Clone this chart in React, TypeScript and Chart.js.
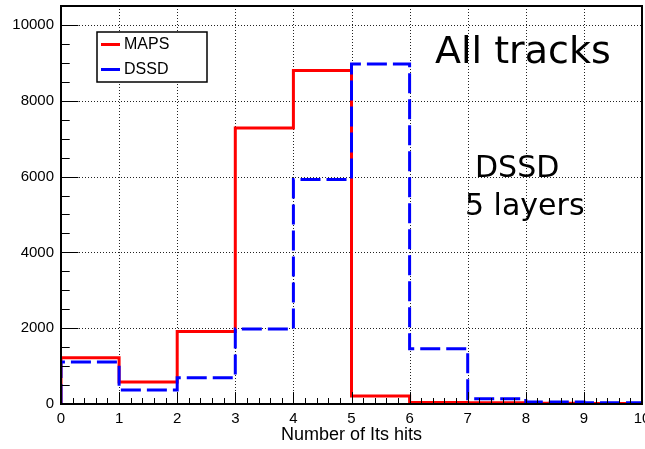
import React, { useEffect, useRef } from "react";
import { Chart, registerables } from "chart.js";

Chart.register(...registerables);

// Histogram bins: lower edges 0..9, width 1
const binEdges = [0, 1, 2, 3, 4, 5, 6, 7, 8, 9, 10];
const mapsCounts = [1220, 580, 1910, 7280, 8800, 210, 40, 30, 20, 10];
const dssdCounts = [1110, 370, 690, 1980, 5920, 8970, 1460, 140, 50, 30];
const xTickValues = [0, 1, 2, 3, 4, 5, 6, 7, 8, 9, 10];
const yTickValues = [0, 2000, 4000, 6000, 8000, 10000];
const legendLabels = ["MAPS", "DSSD"];
const xTitle = "Number of Its hits";
const annotationMain = "All tracks";
const annotationSub1 = "DSSD";
const annotationSub2 = "5 layers";

const RED = "#ff0000";
const BLUE = "#0000ff";
const LABEL_FONT = "'Liberation Sans', Arial, Helvetica, sans-serif";
const TEXT_FONT = "'DejaVu Sans', sans-serif";

// points at each bin's lower edge plus the final upper edge
function histPoints(counts: number[]) {
  const pts: { x: number; y: number }[] = [{ x: binEdges[0], y: 0 }];
  counts.forEach((c, i) => pts.push({ x: binEdges[i], y: c }));
  pts.push({ x: binEdges[binEdges.length - 1], y: counts[counts.length - 1] });
  return pts;
}

const rootPlugin = {
  id: "rootStyle",
  beforeDatasetsDraw(chart: any) {
    const { ctx, chartArea: a, scales } = chart;
    const xs = scales.x;
    const ys = scales.y;
    ctx.save();
    ctx.strokeStyle = "#222";
    ctx.lineWidth = 1;
    ctx.setLineDash([1, 2]);
    xTickValues.forEach((v) => {
      const px = Math.round(xs.getPixelForValue(v)) + 0.5;
      ctx.beginPath();
      ctx.moveTo(px, a.top);
      ctx.lineTo(px, a.bottom);
      ctx.stroke();
    });
    yTickValues.forEach((v) => {
      const py = Math.round(ys.getPixelForValue(v)) + 0.5;
      ctx.beginPath();
      ctx.moveTo(a.left, py);
      ctx.lineTo(a.right, py);
      ctx.stroke();
    });
    ctx.restore();
  },
  afterDatasetsDraw(chart: any) {
    const { ctx, chartArea: a, scales } = chart;
    const xs = scales.x;
    const ys = scales.y;
    ctx.save();
    ctx.setLineDash([]);
    ctx.strokeStyle = "#000";
    ctx.lineWidth = 1;
    const w = a.right - a.left;
    const h = a.bottom - a.top;
    const xMaj = 0.03 * h;
    const yMaj = 0.03 * w;
    for (let i = 0; i <= 50; i++) {
      const v = i * 0.2;
      const px = Math.round(xs.getPixelForValue(v)) + 0.5;
      const len = i % 5 === 0 ? xMaj : xMaj / 2;
      ctx.beginPath();
      ctx.moveTo(px, a.bottom);
      ctx.lineTo(px, a.bottom - len);
      ctx.stroke();
    }
    for (let v = 0; v <= ys.max; v += 500) {
      const py = Math.round(ys.getPixelForValue(v)) + 0.5;
      const len = v % 2000 === 0 ? yMaj : yMaj / 2;
      ctx.beginPath();
      ctx.moveTo(a.left, py);
      ctx.lineTo(a.left + len, py);
      ctx.stroke();
    }
    ctx.lineWidth = 2;
    ctx.strokeRect(a.left, a.top, w, h);

    // legend
    const lx = 97, ly = 32, lw = 110, lh = 50;
    ctx.fillStyle = "#fff";
    ctx.fillRect(lx, ly, lw, lh);
    ctx.lineWidth = 1.5;
    ctx.strokeRect(lx, ly, lw, lh);
    const colors = [RED, BLUE];
    const rows = [44.5, 69.5];
    ctx.font = `16px ${LABEL_FONT}`;
    ctx.textBaseline = "middle";
    ctx.textAlign = "left";
    legendLabels.forEach((lab, i) => {
      ctx.strokeStyle = colors[i];
      ctx.lineWidth = 3;
      ctx.beginPath();
      ctx.moveTo(101, rows[i]);
      ctx.lineTo(120, rows[i]);
      ctx.stroke();
      ctx.fillStyle = "#000";
      ctx.fillText(lab, 124, rows[i] + 0.5);
    });

    // annotations
    ctx.fillStyle = "#000";
    ctx.textBaseline = "alphabetic";
    ctx.font = `38px ${TEXT_FONT}`;
    ctx.fillText(annotationMain, 435, 63);
    ctx.font = `30px ${TEXT_FONT}`;
    ctx.fillText(annotationSub1, 475, 177);
    ctx.fillText(annotationSub2, 465, 215);
    ctx.restore();
  },
};

export default function App() {
  const ref = useRef<HTMLCanvasElement | null>(null);
  useEffect(() => {
    if (!ref.current) return;
    const chart = new Chart(ref.current, {
      type: "line",
      data: {
        datasets: [
          {
            label: legendLabels[1],
            data: histPoints(dssdCounts),
            borderColor: BLUE,
            borderWidth: 3,
            borderDash: [20, 6],
            stepped: "before",
            pointRadius: 0,
            fill: false,
            order: 0,
            borderJoinStyle: "miter",
            borderCapStyle: "butt",
          },
          {
            label: legendLabels[0],
            data: histPoints(mapsCounts),
            borderColor: RED,
            borderWidth: 3,
            stepped: "before",
            pointRadius: 0,
            fill: false,
            order: 1,
            borderJoinStyle: "miter",
            borderCapStyle: "butt",
          },
        ],
      },
      options: {
        animation: false,
        responsive: false,
        devicePixelRatio: 1,
        layout: { padding: { top: 6, right: 3, left: 0, bottom: 0 } },
        plugins: { legend: { display: false }, tooltip: { enabled: false } },
        scales: {
          x: {
            type: "linear",
            min: 0,
            max: 10,
            afterFit: (s: any) => {
              s.height = 45;
              s.paddingLeft = 0;
              s.paddingRight = 0;
            },
            afterBuildTicks: (s: any) => {
              s.ticks = xTickValues.map((v) => ({ value: v }));
            },
            grid: { display: false, drawTicks: false },
            border: { display: false },
            ticks: {
              color: "#000",
              font: { family: LABEL_FONT, size: 15 },
              padding: 6,
              maxRotation: 0,
              autoSkip: false,
              callback: (v: any) => String(v),
            },
            title: {
              display: true,
              text: xTitle,
              color: "#000",
              font: { family: LABEL_FONT, size: 18 },
              padding: { top: 0, bottom: 3 },
            },
          },
          y: {
            type: "linear",
            min: 0,
            max: 10500,
            afterFit: (s: any) => {
              s.width = 61;
              s.paddingTop = 0;
              s.paddingBottom = 0;
            },
            afterBuildTicks: (s: any) => {
              s.ticks = yTickValues.map((v) => ({ value: v }));
            },
            grid: { display: false, drawTicks: false },
            border: { display: false },
            ticks: {
              color: "#000",
              font: { family: LABEL_FONT, size: 15 },
              padding: 7,
              autoSkip: false,
              callback: (v: any) => String(v),
            },
          },
        },
      },
      plugins: [rootPlugin],
    } as any);
    return () => chart.destroy();
  }, []);
  return (
    <div style={{ position: "fixed", left: 0, top: 0, width: 645, height: 449, background: "#fff" }}>
      <canvas ref={ref} width={645} height={449} style={{ width: 645, height: 449, display: "block" }} />
    </div>
  );
}
